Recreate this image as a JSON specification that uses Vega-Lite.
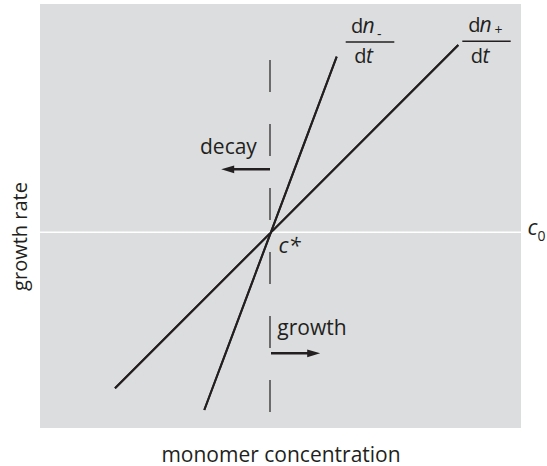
{
  "$schema": "https://vega.github.io/schema/vega-lite/v6.json",
  "width": 481,
  "height": 424,
  "autosize": {"type": "none"},
  "padding": {"left": 40, "top": 4, "right": 26, "bottom": 38},
  "background": "white",
  "config": {
    "view": {"fill": "#dcdddf", "stroke": null},
    "font": "Open Sans",
    "axis": {
      "domain": false,
      "ticks": false,
      "labels": false,
      "grid": false,
      "titleFont": "Open Sans",
      "titleFontWeight": "normal",
      "titleColor": "#231f20"
    }
  },
  "datasets": {
    "rates": [
      {"curve": "dn+/dt", "x": -1.55, "y": -1.56},
      {"curve": "dn+/dt", "x": 1.883, "y": 1.873},
      {"curve": "dn-/dt", "x": -0.657, "y": -1.777},
      {"curve": "dn-/dt", "x": 0.667, "y": 1.756}
    ],
    "baseline": [{"y": 0}],
    "critical": [{"x": 0, "y": 1.723, "y2": -1.797}],
    "shafts": [
      {"dir": "decay", "x": 0, "x2": -0.43, "y": 0.63},
      {"dir": "growth", "x": 0.01, "x2": 0.44, "y": -1.21}
    ],
    "heads": [
      {"dir": "decay", "x": -0.423, "y": 0.63},
      {"dir": "growth", "x": 0.437, "y": -1.21}
    ],
    "bars": [
      {"x": 0.757, "x2": 1.243, "y": 1.903},
      {"x": 1.923, "x2": 2.407, "y": 1.91}
    ],
    "words": [
      {"text": "decay", "x": -0.70, "y": 0.783},
      {"text": "growth", "x": 0.073, "y": -1.027}
    ],
    "upright": [
      {"text": "d", "x": 0.81, "y": 1.99},
      {"text": "d", "x": 0.843, "y": 1.69},
      {"text": "d", "x": 1.983, "y": 2.0},
      {"text": "d", "x": 2.007, "y": 1.693}
    ],
    "italic": [
      {"text": "n", "x": 0.925, "y": 1.99},
      {"text": "t", "x": 0.96, "y": 1.69},
      {"text": "n", "x": 2.095, "y": 2.0},
      {"text": "t", "x": 2.125, "y": 1.693}
    ],
    "symbols": [
      {"text": "c*", "x": 0.085, "y": -0.21},
      {"text": "c", "x": 2.575, "y": -0.027}
    ],
    "subscripts": [
      {"text": "-", "x": 1.07, "y": 1.93},
      {"text": "+", "x": 2.245, "y": 1.97},
      {"text": "0", "x": 2.675, "y": -0.087}
    ]
  },
  "layer": [
    {
      "data": {"name": "rates"},
      "mark": {"type": "line", "color": "#231f20", "strokeWidth": 2},
      "encoding": {
        "x": {"field": "x", "type": "quantitative", "scale": {"domain": [-2.30, 2.51], "nice": false, "zero": false},
              "axis": {"title": "monomer concentration", "titleFontSize": 21, "titlePadding": 16}},
        "y": {"field": "y", "type": "quantitative", "scale": {"domain": [-1.957, 2.283], "nice": false, "zero": false},
              "axis": {"title": "growth rate", "titleFontSize": 20, "titlePadding": 10, "titleY": 232}},
        "detail": {"field": "curve"}
      }
    },
    {
      "data": {"name": "baseline"},
      "mark": {"type": "rule", "color": "white", "strokeWidth": 1.5},
      "encoding": {"y": {"field": "y", "type": "quantitative"}}
    },
    {
      "data": {"name": "critical"},
      "mark": {"type": "rule", "color": "#231f20", "strokeWidth": 1.2, "strokeDash": [32, 32]},
      "encoding": {
        "x": {"field": "x", "type": "quantitative"},
        "y": {"field": "y", "type": "quantitative"},
        "y2": {"field": "y2"}
      }
    },
    {
      "data": {"name": "rates"},
      "mark": {"type": "line", "color": "#231f20", "strokeWidth": 2},
      "encoding": {
        "x": {"field": "x", "type": "quantitative"},
        "y": {"field": "y", "type": "quantitative"},
        "detail": {"field": "curve"}
      }
    },
    {
      "data": {"name": "shafts"},
      "mark": {"type": "rule", "color": "#231f20", "strokeWidth": 2.5},
      "encoding": {
        "x": {"field": "x", "type": "quantitative"},
        "x2": {"field": "x2"},
        "y": {"field": "y", "type": "quantitative"}
      }
    },
    {
      "data": {"name": "heads"},
      "mark": {"type": "point", "filled": true, "color": "#231f20", "opacity": 1, "size": 169},
      "encoding": {
        "x": {"field": "x", "type": "quantitative"},
        "y": {"field": "y", "type": "quantitative"},
        "shape": {"field": "dir", "type": "nominal", "legend": null,
                  "scale": {"domain": ["decay", "growth"], "range": ["M-1,0L1,-0.6L1,0.6Z", "M1,0L-1,-0.6L-1,0.6Z"]}}
      }
    },
    {
      "data": {"name": "bars"},
      "mark": {"type": "rule", "color": "#231f20", "strokeWidth": 1.5},
      "encoding": {
        "x": {"field": "x", "type": "quantitative"},
        "x2": {"field": "x2"},
        "y": {"field": "y", "type": "quantitative"}
      }
    },
    {
      "data": {"name": "words"},
      "mark": {"type": "text", "align": "left", "baseline": "alphabetic", "fontSize": 21, "color": "#231f20"},
      "encoding": {
        "x": {"field": "x", "type": "quantitative"},
        "y": {"field": "y", "type": "quantitative"},
        "text": {"field": "text"}
      }
    },
    {
      "data": {"name": "upright"},
      "mark": {"type": "text", "align": "left", "baseline": "alphabetic", "fontSize": 20, "color": "#231f20"},
      "encoding": {
        "x": {"field": "x", "type": "quantitative"},
        "y": {"field": "y", "type": "quantitative"},
        "text": {"field": "text"}
      }
    },
    {
      "data": {"name": "italic"},
      "mark": {"type": "text", "align": "left", "baseline": "alphabetic", "fontSize": 21, "fontStyle": "italic", "color": "#231f20"},
      "encoding": {
        "x": {"field": "x", "type": "quantitative"},
        "y": {"field": "y", "type": "quantitative"},
        "text": {"field": "text"}
      }
    },
    {
      "data": {"name": "symbols"},
      "mark": {"type": "text", "align": "left", "baseline": "alphabetic", "fontSize": 22, "fontStyle": "italic", "color": "#231f20"},
      "encoding": {
        "x": {"field": "x", "type": "quantitative"},
        "y": {"field": "y", "type": "quantitative"},
        "text": {"field": "text"}
      }
    },
    {
      "data": {"name": "subscripts"},
      "mark": {"type": "text", "align": "left", "baseline": "alphabetic", "fontSize": 14, "color": "#231f20"},
      "encoding": {
        "x": {"field": "x", "type": "quantitative"},
        "y": {"field": "y", "type": "quantitative"},
        "text": {"field": "text"}
      }
    }
  ]
}
